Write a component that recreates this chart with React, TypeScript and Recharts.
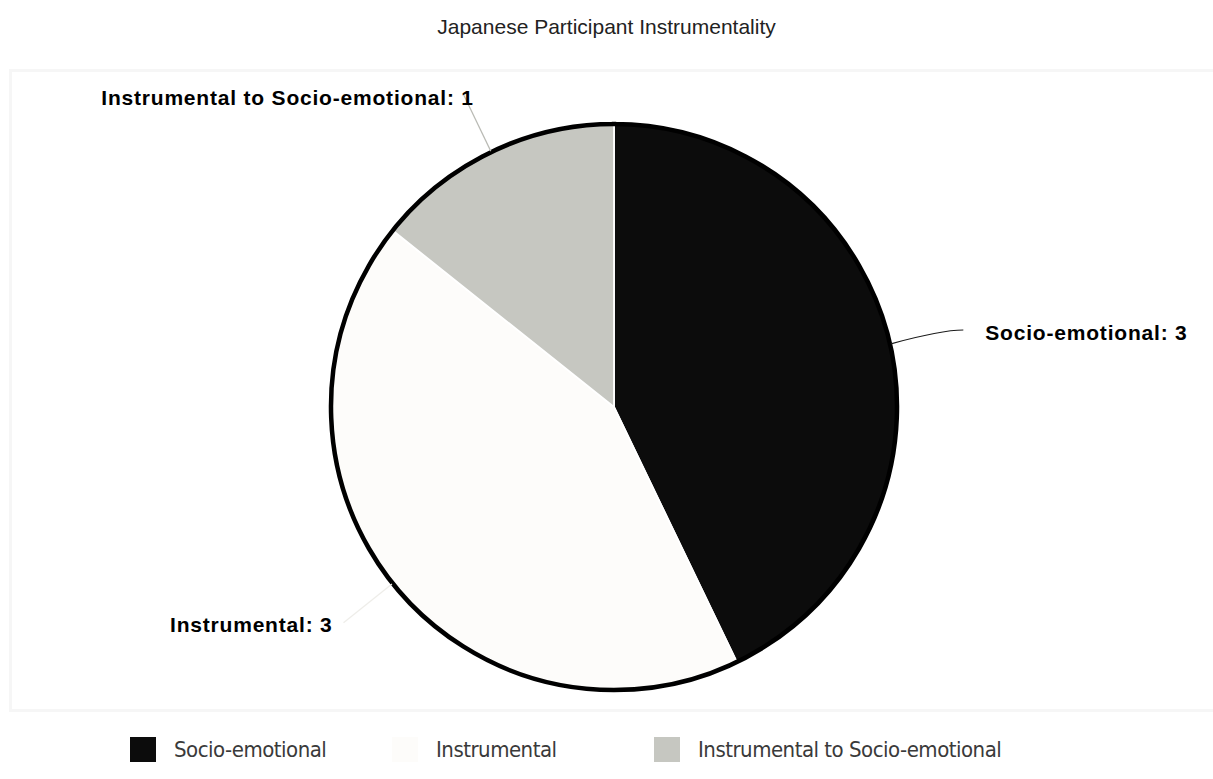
import React from 'react';
import { PieChart, Pie, Cell, Legend } from 'recharts';

const categories = ['Socio-emotional', 'Instrumental', 'Instrumental to Socio-emotional'];
const counts = [3, 3, 1];
const sliceColors = ['#0c0c0c', '#fdfcfa', '#c6c7c1'];
const connectorColors = ['#1a1a1a', '#eeede9', '#b9bab4'];
const chartTitle = 'Japanese Participant Instrumentality';

const data = categories.map((name, i) => ({ name, value: counts[i] }));
const ring = [{ name: 'outline', value: 1 }];

const W = 1213;
const H = 779;
const CX = 614;
const CY = 407;
const R = 283;
const RAD = Math.PI / 180;

const renderLabel = (props: any) => {
  const { cx, cy, midAngle, outerRadius, index, name, value } = props;
  const cos = Math.cos(-midAngle * RAD);
  const sin = Math.sin(-midAngle * RAD);
  const p = (r: number) => [cx + r * cos, cy + r * sin];
  const right = cos >= 0;
  const [sx, sy] = p(outerRadius + 1);
  const [ex0, ey] = p(outerRadius + 63);
  const ex = right ? ex0 + 12 : ex0;
  let mx: number, my: number;
  if (right) {
    mx = ex - 22;
    my = ey;
  } else {
    [mx, my] = p(outerRadius + 35);
  }
  const tx = right ? ex + 22 : ex + 36 - 60 * Math.abs(cos);
  const ty = ey + 2;
  return (
    <g key={`lbl-${index}`}>
      <path
        d={`M${sx},${sy} Q${mx},${my} ${ex},${ey}`}
        stroke={connectorColors[index]}
        strokeWidth={1.2}
        fill="none"
      />
      <text
        x={tx}
        y={ty}
        textAnchor={right ? 'start' : 'end'}
        dominantBaseline="central"
        fontFamily="'Liberation Sans', Arial, sans-serif"
        fontWeight="bold"
        fontSize={21}
        letterSpacing={0.8}
        fill="#000"
      >
        {`${name}: ${value}`}
      </text>
    </g>
  );
};

const renderLegend = (props: any) => {
  const payload = (props.payload || [])
    .filter((e: any) => e.type !== 'none' && categories.includes(e.value))
    .sort((a: any, b: any) => categories.indexOf(a.value) - categories.indexOf(b.value));
  return (
    <div style={{ display: 'flex', alignItems: 'center', paddingLeft: 130 }}>
      {payload.map((e: any, i: number) => (
        <div
          key={i}
          style={{
            display: 'flex',
            alignItems: 'center',
            width: i < payload.length - 1 ? 262 : 'auto',
            flexShrink: 0,
          }}
        >
          <span
            style={{
              display: 'inline-block',
              width: 26,
              height: 25,
              background: e.color,
              marginRight: 18,
            }}
          />
          <span
            style={{
              fontFamily: "'DejaVu Sans Condensed', 'Liberation Sans Narrow', 'DejaVu Sans', sans-serif",
              fontStretch: 'condensed',
              fontSize: 22,
              letterSpacing: -0.5,
              color: '#3a3a3a',
              lineHeight: '25px',
              whiteSpace: 'nowrap',
            }}
          >
            {e.value}
          </span>
        </div>
      ))}
    </div>
  );
};

export default function App() {
  return (
    <div style={{ position: 'absolute', left: 0, top: 0, width: W, height: H, background: '#fff' }}>
      <div
        style={{
          position: 'absolute',
          left: 0,
          top: 15,
          width: W,
          textAlign: 'center',
          fontFamily: "'Liberation Sans', Arial, sans-serif",
          fontSize: 21,
          color: '#222',
        }}
      >
        {chartTitle}
      </div>
      <div
        style={{
          position: 'absolute',
          left: 9,
          top: 69,
          width: W - 9,
          height: 643,
          boxSizing: 'border-box',
          border: '3px solid #f6f6f6',
          borderRight: 'none',
        }}
      />
      <div style={{ position: 'absolute', left: 0, top: 0 }}>
        <PieChart width={W} height={H} margin={{ top: 0, right: 0, bottom: 0, left: 0 }}>
          <Pie
            data={data}
            dataKey="value"
            nameKey="name"
            cx={CX}
            cy={CY}
            outerRadius={R}
            startAngle={90}
            endAngle={-270}
            stroke="#ffffff"
            strokeWidth={1.8}
            label={renderLabel}
            labelLine={false}
            isAnimationActive={false}
          >
            {data.map((d, i) => (
              <Cell key={d.name} fill={sliceColors[i]} />
            ))}
          </Pie>
          <Pie
            data={ring}
            dataKey="value"
            cx={CX}
            cy={CY}
            innerRadius={R - 0.01}
            outerRadius={R}
            startAngle={90}
            endAngle={-270}
            fill="none"
            stroke="#000"
            strokeWidth={4.5}
            legendType="none"
            isAnimationActive={false}
          />
          <Legend
            content={renderLegend}
            verticalAlign="bottom"
            wrapperStyle={{ position: 'absolute', top: 737, left: 0, width: W }}
          />
        </PieChart>
      </div>
    </div>
  );
}
